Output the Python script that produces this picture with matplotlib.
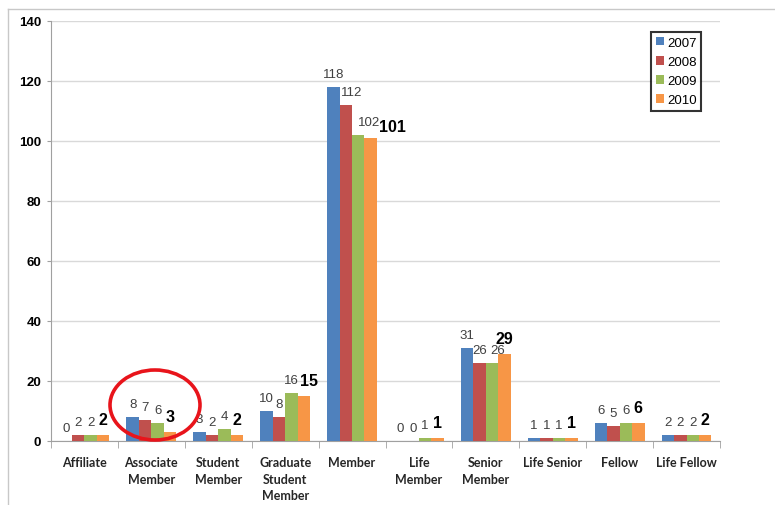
import matplotlib
matplotlib.use("Agg")
import matplotlib.pyplot as plt
import numpy as np
from matplotlib.patches import Ellipse
from matplotlib.lines import Line2D

categories = ["Affiliate", "Associate\nMember", "Student\nMember", "Graduate\nStudent\nMember",
              "Member", "Life\nMember", "Senior\nMember", "Life Senior", "Fellow", "Life Fellow"]
years = ["2007", "2008", "2009", "2010"]
v2007 = [0, 8, 3, 10, 118, 0, 31, 1, 6, 2]
v2008 = [2, 7, 2, 8, 112, 0, 26, 1, 5, 2]
v2009 = [2, 6, 4, 16, 102, 1, 26, 1, 6, 2]
v2010 = [2, 3, 2, 15, 101, 1, 29, 1, 6, 2]
series = [v2007, v2008, v2009, v2010]
colors = ["#4F81BD", "#C0504D", "#9BBB59", "#F79646"]

# hand-placed label nudges (points) as in the original: (series, category) -> (dx, dy)
nudges = {(1, 4): (4, 0), (2, 4): (8, 0), (3, 4): (16, -3),
          (3, 3): (4, 0), (2, 6): (4, 0)}

fig = plt.figure(figsize=(7.75, 5.06), dpi=100)
ax = fig.add_axes([51 / 775, 1 - 442 / 506, 669 / 775, 420 / 506])

x = np.arange(len(categories))
w = 0.186
for i, (vals, c, yr) in enumerate(zip(series, colors, years)):
    bars = ax.bar(x + (i - 1.5) * w, vals, w, color=c, label=yr, zorder=3)
    if i == 3:
        texts = ax.bar_label(bars, padding=6, fontsize=11.5, fontweight="bold",
                             color="black", family="Liberation Sans")
    else:
        texts = ax.bar_label(bars, padding=5, fontsize=9.5, color="#404040",
                             family="Liberation Sans")
    for j, t in enumerate(texts):
        if (i, j) in nudges:
            dx, dy = nudges[(i, j)]
            ox, oy = t.xyann
            t.xyann = (ox + dx, oy + dy)

ax.set_xlim(-0.5, len(categories) - 0.5)
ax.set_ylim(0, 140)
ax.set_yticks(range(0, 141, 20))
ax.yaxis.grid(True, color="#D9D9D9", lw=1, zorder=0)
ax.set_axisbelow(True)

ax.set_xticks(x)
ax.set_xticklabels(categories, fontsize=9, fontweight="bold", family="Lato",
                   color="#262626", linespacing=1.45)
ax.set_xticks(np.arange(-0.5, len(categories)), minor=True)
ax.tick_params(axis="x", which="major", length=0, pad=11)
ax.tick_params(axis="x", which="minor", length=5, color="#A0A0A0")
ax.tick_params(axis="y", length=3, color="#A0A0A0", pad=4)
for lbl in ax.get_yticklabels():
    lbl.set_family("Liberation Sans")
    lbl.set_fontweight("bold")
    lbl.set_fontsize(9.5)

for s in ["top", "right"]:
    ax.spines[s].set_visible(False)
for s in ["left", "bottom"]:
    ax.spines[s].set_color("#A0A0A0")

leg = ax.legend(loc="upper left", bbox_to_anchor=(0.897, 0.974), borderaxespad=0,
                frameon=True, fancybox=False, handlelength=0.65, handleheight=0.65,
                handletextpad=0.2, labelspacing=0.55, borderpad=0.35,
                prop={"family": "Liberation Sans", "size": 9.5})
leg.get_frame().set_edgecolor("black")
leg.get_frame().set_linewidth(1.5)

# red highlight ellipse around Associate Member
fig.patches.append(Ellipse((155 / 775, 1 - 406 / 506), 90 / 775, 70 / 506,
                           transform=fig.transFigure, fill=False,
                           edgecolor="#E8141B", lw=2.6, zorder=10))
# outer frame (top and left edges only visible)
top = 1 - 10 / 506
left = 8 / 775
fig.lines.append(Line2D([left, 1], [top, top], transform=fig.transFigure,
                        color="#C8C8C8", lw=1))
fig.lines.append(Line2D([left, left], [0, top], transform=fig.transFigure,
                        color="#C8C8C8", lw=1))

fig.savefig("out.png", dpi=100)
